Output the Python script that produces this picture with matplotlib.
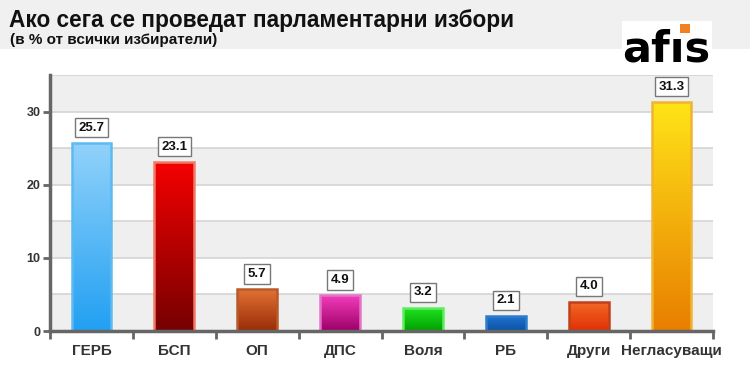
import matplotlib
matplotlib.use("Agg")
import matplotlib.pyplot as plt
import numpy as np
from matplotlib.patches import Rectangle
from matplotlib.colors import LinearSegmentedColormap
from matplotlib import font_manager as fm

categories = ["ГЕРБ", "БСП", "ОП", "ДПС", "Воля", "РБ", "Други", "Негласуващи"]
values = [25.7, 23.1, 5.7, 4.9, 3.2, 2.1, 4.0, 31.3]
top_colors = ["#92d2fa", "#f40000", "#e27234", "#f43cbc", "#22e422", "#2474d4", "#f46a24", "#ffe418"]
bottom_colors = ["#22a0f2", "#760000", "#982c06", "#9c0066", "#00a000", "#0a52a4", "#e03006", "#e87e00"]
edge_colors = ["#5cbaf2", "#f07a66", "#b85a2a", "#e474c8", "#5cee5c", "#2e7ccc", "#c0401a", "#f0b432"]
yticks = [0, 10, 20, 30]

# pick the regular-width Liberation Sans Bold file explicitly
bold_file = None
for f in fm.fontManager.ttflist:
    if f.name == "Liberation Sans" and f.weight in (700, "bold") and f.style == "normal" \
            and "narrow" not in f.fname.lower():
        bold_file = f.fname
        break


def fp(size):
    if bold_file:
        return fm.FontProperties(fname=bold_file, size=size)
    return fm.FontProperties(family="DejaVu Sans", weight="bold", size=size * 0.9)


W, H = 750, 375
fig = plt.figure(figsize=(W / 100, H / 100), dpi=100)
fig.patch.set_facecolor("white")

# header band
fig.patches.append(Rectangle((0, 1 - 49 / H), 1, 49 / H, transform=fig.transFigure,
                             facecolor="#f0f0f0", edgecolor="none", zorder=0))
fig.text(9 / W, 1 - 27 / H, "Ако сега се проведат парламентарни избори", fontproperties=fp(16.3),
         color="#111111", va="baseline", ha="left")
fig.text(10 / W, 1 - 44 / H, "(в % от всички избиратели)", fontproperties=fp(11),
         color="#111111", va="baseline", ha="left")

# logo box
fig.patches.append(Rectangle((622 / W, 1 - 66 / H), 90 / W, 45 / H, transform=fig.transFigure,
                             facecolor="white", edgecolor="none", zorder=1))
fig.text(622 / W, 1 - 62 / H, "afıs", fontsize=31, fontweight="heavy", color="black",
         family="DejaVu Sans", va="baseline", ha="left", zorder=3)
fig.patches.append(Rectangle((680 / W, 1 - 33 / H), 9.5 / W, 9 / H, transform=fig.transFigure,
                             facecolor="#f08020", edgecolor="none", zorder=4))

ax = fig.add_axes([50 / W, 44 / H, 663 / W, 256 / H])
ax.set_facecolor("white")

# alternating bands
for y0 in range(0, 35, 5):
    if (y0 // 5) % 2 == 0:
        ax.axhspan(y0, y0 + 5, facecolor="#efefef", edgecolor="none", zorder=0)
for y0 in range(5, 36, 5):
    ax.axhline(y0, color="#d4d4d4", linewidth=1.2, zorder=0.5)

x = np.arange(len(categories))
bars = ax.bar(x, values, width=0.48, facecolor="none", edgecolor="none", zorder=2)
for b, tc, bc, ec, v in zip(bars, top_colors, bottom_colors, edge_colors, values):
    cmap = LinearSegmentedColormap.from_list("g", [bc, tc])
    grad = np.linspace(0, 1, 256).reshape(-1, 1)
    x0, w = b.get_x(), b.get_width()
    im = ax.imshow(grad, cmap=cmap, origin="lower", aspect="auto",
                   extent=(x0, x0 + w, 0, v), zorder=2, interpolation="bilinear")
    im.set_clip_path(b)
    ax.add_patch(Rectangle((x0, 0), w, v, facecolor="none", edgecolor=ec,
                           linewidth=1.8, zorder=3))
    ax.annotate(f"{v:.1f}", (x0 + w / 2, v), xytext=(0, 11), textcoords="offset points",
                ha="center", va="center", fontproperties=fp(9.5), color="#111111",
                bbox=dict(boxstyle="square,pad=0.28", facecolor="white", edgecolor="#777777",
                          linewidth=1), zorder=4)

ax.set_xlim(-0.5, len(categories) - 0.5)
ax.set_ylim(0, 35)

for s in ["top", "right"]:
    ax.spines[s].set_visible(False)
for s in ["left", "bottom"]:
    ax.spines[s].set_color("#666666")
    ax.spines[s].set_linewidth(2.5)
    ax.spines[s].set_zorder(5)

ax.set_yticks(yticks)
ax.set_yticklabels([str(t) for t in yticks], color="#333333")
for lab in ax.get_yticklabels():
    lab.set_fontproperties(fp(9))
ax.tick_params(axis="y", length=5, width=2, color="#666666", pad=2)

ax.set_xticks(np.arange(len(categories) + 1) - 0.5)
ax.set_xticklabels([])
ax.tick_params(axis="x", length=6, width=2, color="#666666")
for xi, c in zip(x, categories):
    ax.text(xi, -2.7, c, ha="center", va="center", fontproperties=fp(11),
            color="#333333", clip_on=False)

fig.savefig("out.png", dpi=100)
